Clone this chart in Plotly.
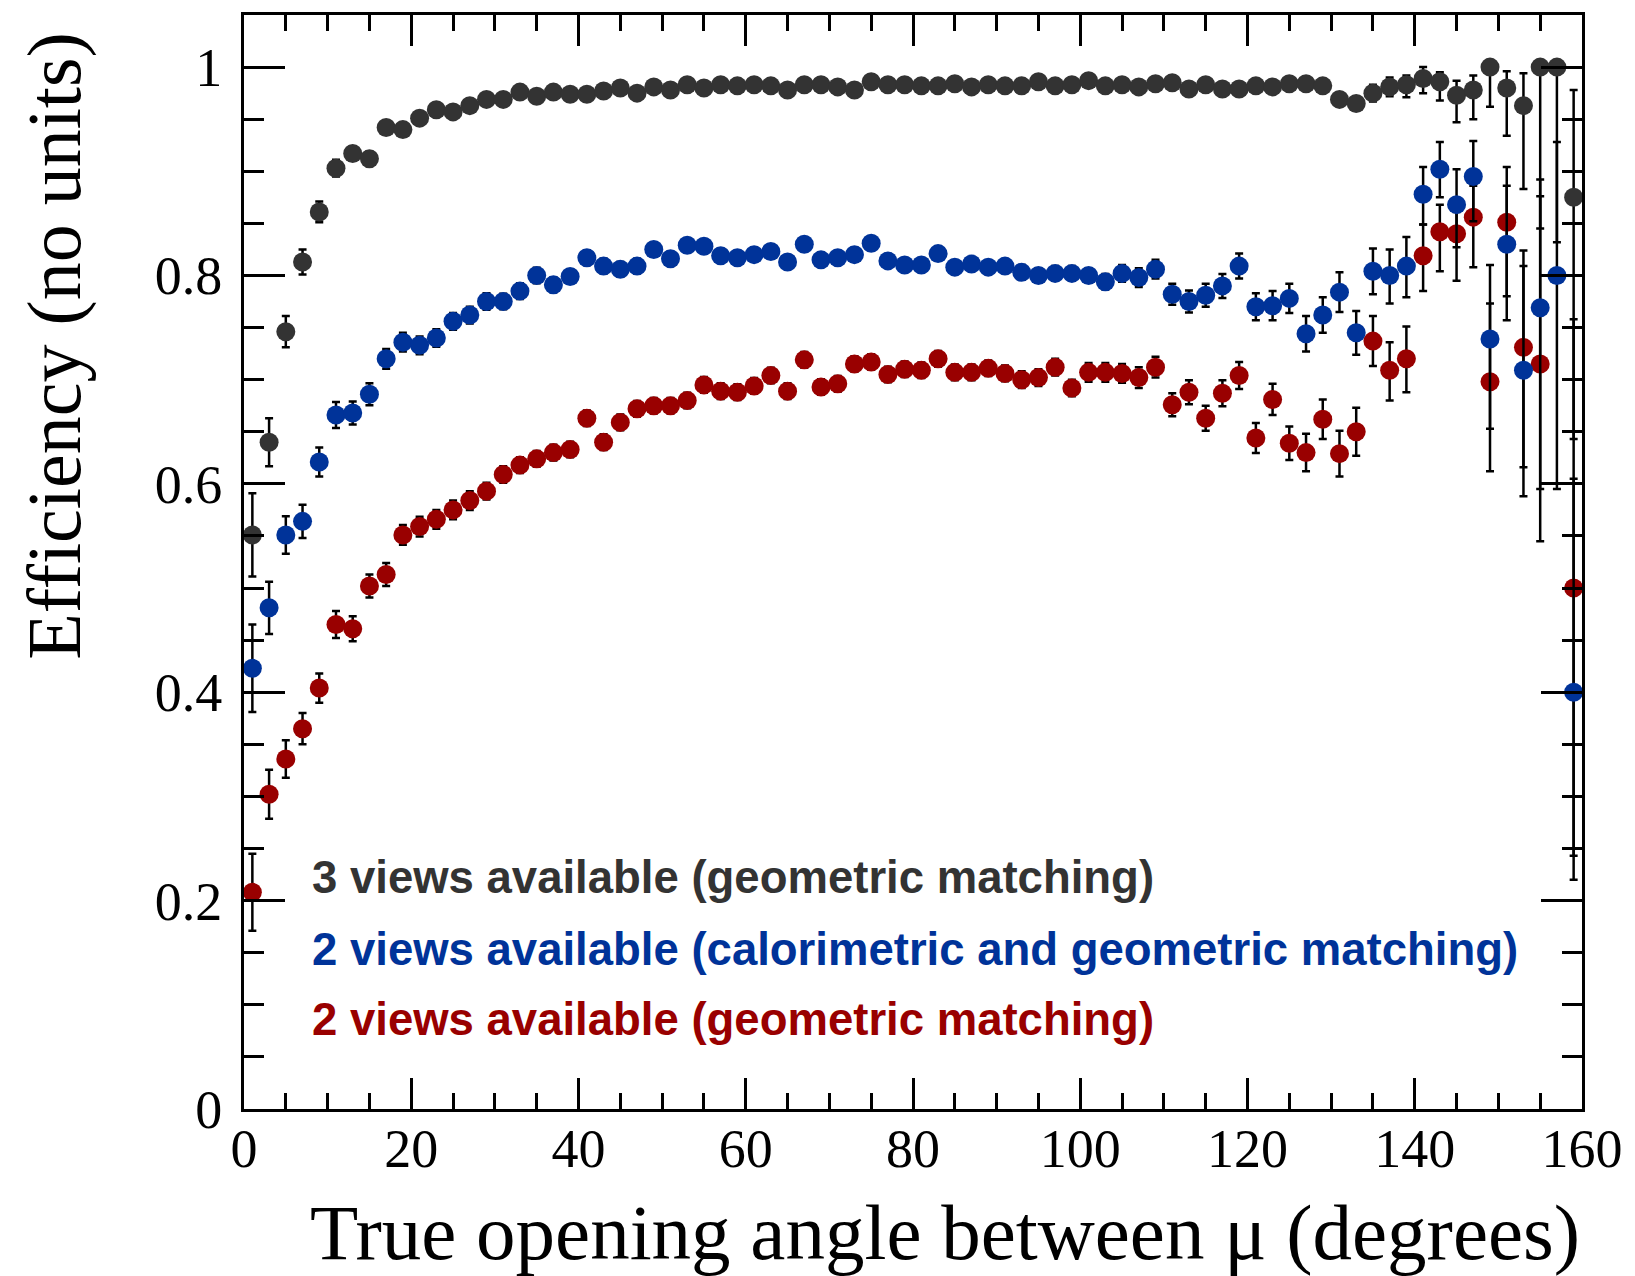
import plotly.graph_objects as go

# Bin centres of the true opening angle (degrees), 2-degree bins
angle = [1, 3, 5, 7, 9, 11, 13, 15, 17, 19,
         21, 23, 25, 27, 29, 31, 33, 35, 37, 39,
         41, 43, 45, 47, 49, 51, 53, 55, 57, 59,
         61, 63, 65, 67, 69, 71, 73, 75, 77, 79,
         81, 83, 85, 87, 89, 91, 93, 95, 97, 99,
         101, 103, 105, 107, 109, 111, 113, 115, 117, 119,
         121, 123, 125, 127, 129, 131, 133, 135, 137, 139,
         141, 143, 145, 147, 149, 151, 153, 155, 157, 159]

# 3 views available (geometric matching)
eff_3v = [0.551, 0.640, 0.746, 0.813, 0.861, 0.903, 0.917, 0.912, 0.942, 0.940,
          0.951, 0.959, 0.957, 0.963, 0.969, 0.969, 0.976, 0.972, 0.976, 0.974,
          0.974, 0.977, 0.980, 0.975, 0.981, 0.978, 0.983, 0.980, 0.983, 0.982,
          0.983, 0.982, 0.978, 0.983, 0.983, 0.981, 0.978, 0.986, 0.983, 0.983,
          0.982, 0.982, 0.984, 0.981, 0.983, 0.982, 0.982, 0.986, 0.982, 0.983,
          0.987, 0.982, 0.983, 0.981, 0.984, 0.985, 0.979, 0.983, 0.979, 0.979,
          0.982, 0.981, 0.984, 0.984, 0.982, 0.969, 0.965, 0.975, 0.981, 0.983,
          0.989, 0.986, 0.973, 0.978, 1.000, 0.980, 0.963, 1.000, 1.000, 0.875]
err_3v_up = [0.040, 0.023, 0.015, 0.012, 0.010, 0.008, 0.007, 0.007, 0.006, 0.006,
             0.005, 0.005, 0.005, 0.005, 0.005, 0.004, 0.004, 0.004, 0.004, 0.004,
             0.004, 0.004, 0.004, 0.004, 0.004, 0.004, 0.004, 0.004, 0.004, 0.004,
             0.004, 0.004, 0.004, 0.004, 0.004, 0.004, 0.004, 0.004, 0.004, 0.004,
             0.004, 0.004, 0.004, 0.004, 0.004, 0.004, 0.004, 0.004, 0.004, 0.004,
             0.004, 0.004, 0.004, 0.004, 0.004, 0.004, 0.004, 0.004, 0.004, 0.004,
             0.004, 0.004, 0.004, 0.004, 0.004, 0.005, 0.006, 0.008, 0.009, 0.009,
             0.011, 0.009, 0.014, 0.014, 0.000, 0.016, 0.031, 0.000, 0.000, 0.103]
err_3v_dn = [0.040, 0.023, 0.015, 0.012, 0.010, 0.008, 0.007, 0.007, 0.006, 0.006,
             0.005, 0.005, 0.005, 0.005, 0.005, 0.004, 0.004, 0.004, 0.004, 0.004,
             0.004, 0.004, 0.004, 0.004, 0.004, 0.004, 0.004, 0.004, 0.004, 0.004,
             0.004, 0.004, 0.004, 0.004, 0.004, 0.004, 0.004, 0.004, 0.004, 0.004,
             0.004, 0.004, 0.004, 0.004, 0.004, 0.004, 0.004, 0.004, 0.004, 0.004,
             0.004, 0.004, 0.004, 0.004, 0.004, 0.004, 0.004, 0.004, 0.004, 0.004,
             0.004, 0.004, 0.004, 0.004, 0.004, 0.005, 0.006, 0.008, 0.009, 0.012,
             0.014, 0.018, 0.026, 0.028, 0.038, 0.046, 0.080, 0.155, 0.168, 0.232]

# 2 views available (calorimetric and geometric matching)
eff_2v_cal = [0.423, 0.481, 0.551, 0.564, 0.621, 0.666, 0.668, 0.686, 0.720, 0.736,
              0.733, 0.740, 0.756, 0.762, 0.775, 0.775, 0.785, 0.800, 0.791, 0.799,
              0.817, 0.809, 0.806, 0.809, 0.825, 0.816, 0.829, 0.828, 0.819, 0.817,
              0.820, 0.823, 0.813, 0.830, 0.815, 0.817, 0.820, 0.831, 0.814, 0.810,
              0.810, 0.821, 0.808, 0.811, 0.808, 0.809, 0.803, 0.800, 0.802, 0.802,
              0.800, 0.794, 0.802, 0.798, 0.806, 0.782, 0.775, 0.781, 0.790, 0.809,
              0.770, 0.771, 0.778, 0.744, 0.762, 0.784, 0.745, 0.804, 0.800, 0.809,
              0.878, 0.902, 0.868, 0.895, 0.739, 0.830, 0.709, 0.769, 0.800, 0.400]
err_2v_cal_up = [0.042, 0.025, 0.018, 0.016, 0.014, 0.0125, 0.011, 0.0105, 0.0095, 0.009,
                 0.0085, 0.0085, 0.008, 0.008, 0.008, 0.0075, 0.0075, 0.0075, 0.007, 0.007,
                 0.007, 0.007, 0.007, 0.007, 0.0065, 0.0065, 0.0065, 0.0065, 0.0065, 0.0065,
                 0.0065, 0.0065, 0.0065, 0.0065, 0.0065, 0.0065, 0.0065, 0.0065, 0.0065, 0.0065,
                 0.0065, 0.0065, 0.0065, 0.0065, 0.0065, 0.0065, 0.007, 0.007, 0.007, 0.007,
                 0.007, 0.0075, 0.008, 0.009, 0.009, 0.010, 0.0105, 0.011, 0.0115, 0.012,
                 0.013, 0.014, 0.014, 0.017, 0.017, 0.019, 0.021, 0.022, 0.025, 0.028,
                 0.026, 0.026, 0.034, 0.034, 0.071, 0.056, 0.115, 0.123, 0.128, 0.205]
err_2v_cal_dn = [0.042, 0.025, 0.018, 0.016, 0.014, 0.0125, 0.011, 0.0105, 0.0095, 0.009,
                 0.0085, 0.0085, 0.008, 0.008, 0.008, 0.0075, 0.0075, 0.0075, 0.007, 0.007,
                 0.007, 0.007, 0.007, 0.007, 0.0065, 0.0065, 0.0065, 0.0065, 0.0065, 0.0065,
                 0.0065, 0.0065, 0.0065, 0.0065, 0.0065, 0.0065, 0.0065, 0.0065, 0.0065, 0.0065,
                 0.0065, 0.0065, 0.0065, 0.0065, 0.0065, 0.0065, 0.007, 0.007, 0.007, 0.007,
                 0.007, 0.0075, 0.008, 0.009, 0.009, 0.010, 0.0105, 0.011, 0.0115, 0.012,
                 0.013, 0.014, 0.014, 0.017, 0.017, 0.019, 0.021, 0.022, 0.027, 0.030,
                 0.029, 0.027, 0.041, 0.043, 0.086, 0.050, 0.121, 0.224, 0.205, 0.180]

# 2 views available (geometric matching)
eff_2v_geo = [0.208, 0.302, 0.336, 0.365, 0.404, 0.465, 0.461, 0.502, 0.513, 0.551,
              0.559, 0.566, 0.575, 0.584, 0.593, 0.609, 0.618, 0.624, 0.630, 0.633,
              0.663, 0.640, 0.659, 0.672, 0.675, 0.675, 0.680, 0.695, 0.689, 0.688,
              0.694, 0.704, 0.689, 0.719, 0.693, 0.696, 0.715, 0.717, 0.705, 0.710,
              0.709, 0.720, 0.707, 0.707, 0.711, 0.706, 0.700, 0.702, 0.712, 0.692,
              0.707, 0.707, 0.706, 0.702, 0.712, 0.676, 0.688, 0.663, 0.687, 0.704,
              0.644, 0.681, 0.639, 0.630, 0.662, 0.629, 0.650, 0.737, 0.709, 0.720,
              0.819, 0.842, 0.840, 0.856, 0.698, 0.851, 0.731, 0.715, None, 0.500]
err_2v_geo_up = [0.037, 0.0235, 0.018, 0.015, 0.014, 0.013, 0.012, 0.011, 0.011, 0.0095,
                 0.0095, 0.009, 0.009, 0.009, 0.008, 0.008, 0.0075, 0.0075, 0.0075, 0.0075,
                 0.0075, 0.0075, 0.0075, 0.0075, 0.0075, 0.0075, 0.0075, 0.0075, 0.0075, 0.0075,
                 0.0075, 0.0075, 0.0075, 0.0075, 0.0075, 0.0075, 0.0075, 0.0075, 0.0075, 0.0075,
                 0.0075, 0.0075, 0.0075, 0.0075, 0.0075, 0.0075, 0.008, 0.008, 0.008, 0.008,
                 0.009, 0.009, 0.009, 0.010, 0.010, 0.011, 0.0115, 0.012, 0.0125, 0.013,
                 0.0145, 0.015, 0.016, 0.018, 0.019, 0.022, 0.023, 0.024, 0.027, 0.031,
                 0.030, 0.026, 0.021, 0.030, 0.075, 0.053, 0.078, 0.161, 0.0, 0.258]
err_2v_geo_dn = [0.037, 0.0235, 0.018, 0.015, 0.014, 0.013, 0.012, 0.011, 0.011, 0.0095,
                 0.0095, 0.009, 0.009, 0.009, 0.008, 0.008, 0.0075, 0.0075, 0.0075, 0.0075,
                 0.0075, 0.0075, 0.0075, 0.0075, 0.0075, 0.0075, 0.0075, 0.0075, 0.0075, 0.0075,
                 0.0075, 0.0075, 0.0075, 0.0075, 0.0075, 0.0075, 0.0075, 0.0075, 0.0075, 0.0075,
                 0.0075, 0.0075, 0.0075, 0.0075, 0.0075, 0.0075, 0.008, 0.008, 0.008, 0.008,
                 0.009, 0.009, 0.009, 0.010, 0.010, 0.011, 0.0115, 0.012, 0.0125, 0.013,
                 0.0145, 0.015, 0.016, 0.018, 0.019, 0.022, 0.023, 0.024, 0.029, 0.032,
                 0.034, 0.038, 0.045, 0.048, 0.086, 0.094, 0.115, 0.120, 0.0, 0.257]

series_labels = ["3 views available (geometric matching)",
                 "2 views available (calorimetric and geometric matching)",
                 "2 views available (geometric matching)"]
series_colors = ["#333333", "#003399", "#990000"]

SERIF = "Liberation Serif, Times New Roman, serif"
SANS = "Liberation Sans, Arial, Helvetica, sans-serif"

fig = go.Figure()


def add_series(y, up, dn, color, name):
    fig.add_trace(go.Scatter(
        x=angle, y=y, mode="markers", name=name, showlegend=False,
        marker=dict(symbol="circle", size=19, color=color, line=dict(width=0)),
        error_y=dict(type="data", symmetric=False, array=up, arrayminus=dn,
                     color="black", thickness=2.5, width=4),
        cliponaxis=False,
    ))


# drawing order: red first, then blue, gray on top
add_series(eff_2v_geo, err_2v_geo_up, err_2v_geo_dn, series_colors[2], series_labels[2])
add_series(eff_2v_cal, err_2v_cal_up, err_2v_cal_dn, series_colors[1], series_labels[1])
add_series(eff_3v, err_3v_up, err_3v_dn, series_colors[0], series_labels[0])

# helper trace so the mirrored top/right tick axes get drawn
fig.add_trace(go.Scatter(x=[None], y=[None], xaxis="x2", yaxis="y2",
                         showlegend=False, hoverinfo="skip"))

XR = [0, 160]
YR = [0, 1.05]
tick_common = dict(ticks="inside", tickwidth=2.5, tickcolor="black",
                   showgrid=False, zeroline=False)

fig.update_layout(
    width=1635, height=1276,
    margin=dict(l=244, r=51, t=12, b=167, pad=0),
    paper_bgcolor="white", plot_bgcolor="white",
    showlegend=False,
    xaxis=dict(range=XR, tickmode="linear", tick0=0, dtick=20, ticklen=31,
               minor=dict(tick0=0, dtick=5, ticklen=16, tickwidth=2.5,
                          tickcolor="black", ticks="inside", showgrid=False),
               showline=True, linewidth=3, linecolor="black", mirror=True,
               tickfont=dict(family=SERIF, size=54, color="black"),
               ticklabelstandoff=-10, **tick_common),
    yaxis=dict(range=YR, tickmode="linear", tick0=0, dtick=0.2, ticklen=41,
               minor=dict(tick0=0, dtick=0.05, ticklen=20, tickwidth=2.5,
                          tickcolor="black", ticks="inside", showgrid=False),
               showline=True, linewidth=3, linecolor="black", mirror=True,
               tickfont=dict(family=SERIF, size=54, color="black"),
               ticklabelstandoff=8, **tick_common),
    xaxis2=dict(range=XR, overlaying="x", side="top", anchor="y",
                tickmode="linear", tick0=0, dtick=20, ticklen=31,
                minor=dict(tick0=0, dtick=5, ticklen=16, tickwidth=2.5,
                           tickcolor="black", ticks="inside", showgrid=False),
                showticklabels=False, showline=False, **tick_common),
    yaxis2=dict(range=YR, overlaying="y", side="right", anchor="x",
                tickmode="linear", tick0=0, dtick=0.2, ticklen=41,
                minor=dict(tick0=0, dtick=0.05, ticklen=20, tickwidth=2.5,
                           tickcolor="black", ticks="inside", showgrid=False),
                showticklabels=False, showline=False, **tick_common),
)

# axis titles (ROOT style: aligned to the end of each axis)
fig.add_annotation(text="Efficiency (no units)", xref="paper", yref="paper",
                   x=-0.1418, y=0.698, xanchor="center", yanchor="middle",
                   textangle=-90, showarrow=False,
                   font=dict(family=SERIF, size=76, color="black"))
fig.add_annotation(text="True opening angle between \u03bc (degrees)",
                   xref="paper", yref="paper", x=1.0, y=-0.113,
                   xanchor="right", yanchor="middle", showarrow=False,
                   font=dict(family=SERIF, size=79, color="black"))

# legend written as coloured text lines
legend_y = [0.2119, 0.1462, 0.0815]
for label, color, ly in zip(series_labels, series_colors, legend_y):
    fig.add_annotation(text=label, xref="paper", yref="paper", x=0.0493, y=ly,
                       xanchor="left", yanchor="middle", showarrow=False,
                       font=dict(family=SANS, size=45.5, color=color, weight="bold"))

fig.write_html("out.html")
